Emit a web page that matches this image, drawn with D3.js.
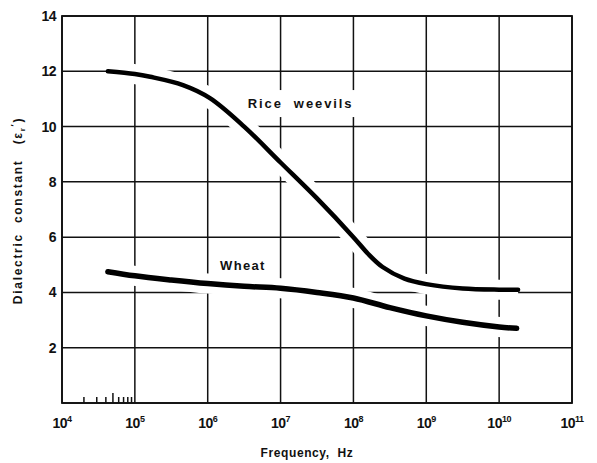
<!DOCTYPE html>
<html>
<head>
<meta charset="utf-8">
<script src="https://cdn.jsdelivr.net/npm/d3@7"></script>
<style>
  body { margin: 0; background: #fff; }
  text { font-family: "Liberation Sans", Arial, sans-serif; font-weight: bold; fill: #111; }
  .grid line { stroke: #111; stroke-width: 1.5; }
  .curve { fill: none; stroke: #000; stroke-linecap: round; stroke-linejoin: round; }
  .halo { fill: none; stroke: #fff; stroke-width: 20; stroke-linecap: butt; }
</style>
</head>
<body>
<svg id="chart" width="597" height="463"></svg>
<script>
// data (log10 of frequency, dielectric constant)
var riceLogF = [4.63, 5.0, 5.21, 5.66, 6.03, 6.5, 7.0, 7.5, 8.0, 8.2, 8.4, 8.7, 9.0, 9.5, 10.0, 10.26]
var riceEps  = [12.0, 11.9, 11.8, 11.5, 11.03, 10.0, 8.7, 7.4, 6.0, 5.4, 4.92, 4.5, 4.3, 4.14, 4.1, 4.1]

var wheatLogF = [4.63, 5.0, 5.5, 6.0, 6.5, 7.0, 7.5, 8.0, 8.5, 9.0, 9.5, 10.0, 10.24]
var wheatEps  = [4.75, 4.6, 4.45, 4.32, 4.22, 4.15, 4.0, 3.8, 3.45, 3.15, 2.92, 2.75, 2.7]

var xDecades = [4, 5, 6, 7, 8, 9, 10, 11]
var yTicks = [2, 4, 6, 8, 10, 12, 14]
var minorTicks = [2e4, 3e4, 4e4, 5e4, 6e4, 7e4, 8e4, 9e4]

var margin = { top: 16, right: 25, bottom: 60, left: 62 },
    width = 597 - margin.left - margin.right,
    height = 463 - margin.top - margin.bottom

var svg = d3.select("#chart")
var g = svg.append("g").attr("transform", "translate(" + margin.left + "," + margin.top + ")")

// scales
var x = d3.scaleLog().domain([1e4, 1e11]).range([0, width])
var y = d3.scaleLinear().domain([0, 14]).range([height, 0])

function series(logF, eps) {
    return logF.map(function(d, i) { return { f: Math.pow(10, d), v: eps[i] } })
}
var rice = series(riceLogF, riceEps),
    wheat = series(wheatLogF, wheatEps)

var line = d3.line()
    .x(function(d) { return x(d.f) })
    .y(function(d) { return y(d.v) })
    .curve(d3.curveCatmullRom.alpha(0.5))

// grid
var grid = g.append("g").attr("class", "grid")
grid.selectAll(".vx").data(xDecades).enter().append("line")
    .attr("x1", function(d) { return x(Math.pow(10, d)) })
    .attr("x2", function(d) { return x(Math.pow(10, d)) })
    .attr("y1", 0).attr("y2", height)
grid.selectAll(".hy").data(yTicks.concat([0])).enter().append("line")
    .attr("x1", 0).attr("x2", width)
    .attr("y1", function(d) { return y(d) })
    .attr("y2", function(d) { return y(d) })

// white halos cut the grid round the curves
g.append("path").datum(rice).attr("class", "halo").attr("d", line)
g.append("path").datum(wheat).attr("class", "halo").attr("d", line)

// frame
g.append("rect")
    .attr("width", width).attr("height", height)
    .attr("fill", "none").attr("stroke", "#111").attr("stroke-width", 1.8)

// minor ticks at the bottom between 10^4 and 10^5
g.append("g").selectAll("line").data(minorTicks).enter().append("line")
    .attr("x1", function(d) { return x(d) })
    .attr("x2", function(d) { return x(d) })
    .attr("y1", height)
    .attr("y2", function(d) { return height - (d == 5e4 ? 10 : 6) })
    .attr("stroke", "#111").attr("stroke-width", 1.5)

// curves
g.append("path").datum(rice).attr("class", "curve").attr("stroke-width", 4.5).attr("d", line)
g.append("path").datum(wheat).attr("class", "curve").attr("stroke-width", 5.5).attr("d", line)

// curve labels
function label(txt, lx, ly, ls) {
    var t = g.append("text")
        .attr("x", lx).attr("y", ly)
        .style("font-size", "13px")
        .style("letter-spacing", ls + "px")
        .style("white-space", "pre")
        .text(txt)
    var b = t.node().getBBox()
    g.insert("rect", "text")
        .attr("x", b.x - 8).attr("y", b.y - 6)
        .attr("width", b.width + 16).attr("height", b.height + 12)
        .attr("fill", "#fff")
}
label("Rice  weevils", x(Math.pow(10, 6.55)), y(10.67), 1.9)
label("Wheat", x(Math.pow(10, 6.17)), y(4.82), 1.3)

// y tick labels
g.append("g").selectAll("text").data(yTicks).enter().append("text")
    .attr("x", -6)
    .attr("y", function(d) { return y(d) })
    .attr("dy", "0.36em")
    .attr("text-anchor", "end")
    .style("font-size", "14px")
    .style("letter-spacing", "-0.5px")
    .text(function(d) { return d })

// x tick labels 10^n
var xl = g.append("g").selectAll("text").data(xDecades).enter().append("text")
    .attr("x", function(d) { return x(Math.pow(10, d)) })
    .attr("y", height + 25)
    .attr("text-anchor", "middle")
    .style("font-size", "14px")
    .style("letter-spacing", "-0.5px")
xl.append("tspan").text("10")
xl.append("tspan").attr("dy", -6).style("font-size", "9px").text(function(d) { return d })

// axis titles
g.append("text")
    .attr("x", 245)
    .attr("y", height + 54)
    .attr("text-anchor", "middle")
    .style("font-size", "12px")
    .style("letter-spacing", "0.6px")
    .style("white-space", "pre")
    .text("Frequency,  Hz")

var yt = g.append("text")
    .attr("transform", "translate(" + (-40) + "," + (y(7) + 1) + ") rotate(-90)")
    .attr("text-anchor", "middle")
    .style("font-size", "12px")
    .style("letter-spacing", "1.7px")
    .style("white-space", "pre")
yt.append("tspan").text("Dialectric  constant   (\u03b5")
yt.append("tspan").attr("dy", 3).style("font-size", "8px").text("r")
yt.append("tspan").attr("dy", -8).style("font-size", "9px").text("\u2032")
yt.append("tspan").attr("dy", 5).text(")")
</script>
</body>
</html>
